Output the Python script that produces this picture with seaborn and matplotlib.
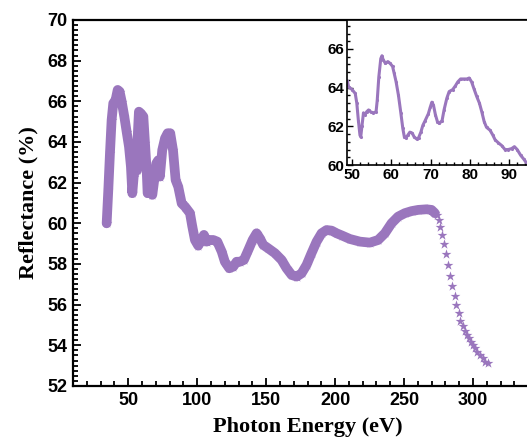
import matplotlib
matplotlib.use("Agg")
import matplotlib.pyplot as plt
import seaborn as sns
import pandas as pd
from matplotlib.ticker import MultipleLocator

# ---- main curve: photon energy (eV) vs reflectance (%) ----
energy = [34.4, 35.6, 36.8, 38.0, 39.2, 40.9, 42.4, 43.8, 45.3, 47.2, 48.9, 50.6,
          52.0, 53.0, 54.0, 54.9, 56.4, 56.9, 57.8, 59.3, 61.0, 62.2, 63.4, 64.1,
          65.8, 67.5, 68.9, 70.4, 71.8, 73.0, 74.7, 76.7, 78.6, 80.5, 82.5, 84.4,
          86.3, 88.8, 91.2, 94.8, 96.5, 98.4, 100.8, 103.2, 104.9, 106.9, 109.3,
          111.7, 114.6, 117.8, 120.1, 123.3, 126.2, 128.6, 131.0, 133.9, 137.1,
          140.2, 143.1, 145.5, 147.9, 151.5, 156.4, 161.2, 164.8, 168.5, 172.1,
          175.7, 179.3, 182.9, 186.6, 190.2, 193.8, 197.5, 201.1, 205.0, 210.7,
          218.0, 225.2, 231.2, 236.1, 240.9, 245.7, 250.6, 255.4, 260.2, 266.3,
          269.9, 272.3,
          274.0, 275.0, 276.4, 277.6, 279.0, 280.3, 281.7, 283.4, 285.1, 286.6,
          288.0, 289.5, 290.9, 292.4, 294.1, 295.7, 297.2, 298.6, 300.1, 301.5,
          303.0, 304.9, 306.9, 308.8, 310.7]
reflect = [60.0, 61.64, 63.45, 65.08, 65.9, 66.07, 66.56, 66.48, 65.99, 65.25, 64.5, 63.77,
           62.79, 61.48, 62.3, 62.7, 62.6, 64.26, 65.49, 65.4, 65.25, 63.94, 62.62, 61.48,
           61.56, 61.4, 62.13, 62.95, 63.1, 62.3, 63.6, 64.18, 64.43, 64.43, 63.6, 62.13,
           61.8, 60.98, 60.82, 60.5, 59.84, 59.18, 58.9, 59.18, 59.43, 59.1, 59.18,
           59.18, 59.1, 58.61, 58.11, 57.79, 57.87, 58.11, 58.11, 58.2, 58.69,
           59.18, 59.51, 59.26, 58.94, 58.77, 58.53, 58.2, 57.79, 57.46, 57.38,
           57.54, 57.95, 58.53, 59.1, 59.51, 59.67, 59.64, 59.51, 59.4, 59.23,
           59.1, 59.05, 59.18, 59.51, 60.0, 60.33, 60.5, 60.6, 60.66, 60.69,
           60.66, 60.5,
           60.41, 60.17, 59.8, 59.43, 58.98, 58.47, 57.95, 57.41, 56.92, 56.43,
           55.98, 55.58, 55.21, 54.95, 54.72, 54.51, 54.34, 54.18, 54.02, 53.85,
           53.69, 53.52, 53.36, 53.2, 53.11]

# ---- inset curve (zoom 49-95 eV) ----
inset_energy = [48.8, 49.1, 50.0, 50.8, 51.2, 51.6, 52.0, 52.2, 52.5, 52.9, 53.3, 53.7,
                54.2, 54.7, 55.4, 56.1, 56.4, 56.8, 57.3, 57.6, 57.9, 58.5, 59.1, 59.7,
                60.3, 60.7, 61.2, 61.8, 62.4, 62.9, 63.3, 63.7, 64.2, 64.7, 65.3, 65.8,
                66.4, 66.9, 67.5, 68.0, 68.6, 69.4, 69.9, 70.3, 70.7, 71.2, 71.7, 72.2,
                72.9, 73.4, 74.1, 74.7, 75.6, 76.3, 76.9, 77.6, 78.5, 79.2, 79.8, 80.4,
                81.0, 81.7, 82.4, 83.0, 83.6, 84.2, 85.1, 85.8, 86.4, 87.2, 88.1, 88.9,
                89.7, 90.6, 91.3, 92.0, 92.9, 93.7, 94.4, 95.5]
inset_reflect = [64.35, 64.05, 63.9, 63.7, 63.2, 62.3, 61.55, 61.45, 62.0, 62.7, 62.6, 62.75,
                 62.85, 62.75, 62.7, 62.75, 63.35, 64.55, 65.5, 65.65, 65.45, 65.25, 65.35, 65.25,
                 65.1, 64.75, 64.3, 63.6, 62.7, 61.9, 61.45, 61.4, 61.55, 61.7, 61.65, 61.45,
                 61.35, 61.4, 61.7, 62.05, 62.3, 62.65, 63.0, 63.25, 63.1, 62.6, 62.25, 62.15,
                 62.3, 62.85, 63.45, 63.8, 63.9, 64.1, 64.3, 64.45, 64.45, 64.45, 64.5, 64.3,
                 63.95, 63.55, 63.2, 62.75, 62.25, 61.95, 61.8, 61.55, 61.3, 61.15, 61.0, 60.8,
                 60.8, 60.85, 60.95, 60.8, 60.5, 60.3, 60.1, 59.8]

main_xticks = [50, 100, 150, 200, 250, 300]
main_yticks = [52, 54, 56, 58, 60, 62, 64, 66, 68, 70]
inset_xticks = [50, 60, 70, 80, 90]
inset_yticks = [60, 62, 64, 66]

COLOR = "#9a76bd"

sns.set_style("ticks")
plt.rcParams["font.family"] = ["Liberation Sans", "DejaVu Sans"]
plt.rcParams["font.weight"] = "bold"
for key in ["text.color", "axes.labelcolor", "xtick.color", "ytick.color",
            "axes.edgecolor"]:
    plt.rcParams[key] = "black"

df = pd.DataFrame({"E": energy, "R": reflect})
dense = df[df["E"] <= 272.5]
dfi = pd.DataFrame({"E": inset_energy, "R": inset_reflect})

fig = plt.figure(figsize=(5.27, 4.43), dpi=100)
ax = fig.add_axes([0.1385, 0.1287, 0.890, 0.8262])

sns.lineplot(data=dense, x="E", y="R", ax=ax, color=COLOR, linewidth=7.0,
             sort=False, estimator=None, solid_capstyle="round",
             solid_joinstyle="round")
sns.scatterplot(data=df, x="E", y="R", ax=ax, color=COLOR, marker="*", s=55,
                linewidth=0, edgecolor=None)

ax.set_xlim(10, 350)
ax.set_ylim(52, 70)
ax.set_xticks(main_xticks)
ax.set_yticks(main_yticks)
ax.xaxis.set_minor_locator(MultipleLocator(10))
ax.yaxis.set_minor_locator(MultipleLocator(0.25))
ax.tick_params(which="both", direction="in", top=False, right=False, width=1.3,
               labelsize=13, pad=4, colors="black")
ax.tick_params(which="major", length=6)
ax.tick_params(which="minor", length=3.5)
for lab in ax.get_xticklabels() + ax.get_yticklabels():
    lab.set_fontweight("bold")
for sp in ax.spines.values():
    sp.set_linewidth(1.6)
    sp.set_color("black")
ax.set_xlabel("Photon Energy (eV)", family=["Liberation Serif", "DejaVu Serif"],
              fontsize=16, fontweight="bold", labelpad=6, color="black")
ax.set_ylabel("Reflectance (%)", family=["Liberation Serif", "DejaVu Serif"],
              fontsize=16, fontweight="bold", labelpad=6, color="black")

# ---- inset ----
ins = fig.add_axes([0.6584, 0.6275, 0.3826, 0.3274])
sns.lineplot(data=dfi, x="E", y="R", ax=ins, color=COLOR, linewidth=2.2,
             sort=False, estimator=None)
sns.scatterplot(data=dfi, x="E", y="R", ax=ins, color=COLOR, marker="o", s=5,
                linewidth=0, edgecolor=None)
ins.set_xlim(48.7, 100)
ins.set_ylim(60, 67.5)
ins.set_xticks(inset_xticks)
ins.set_yticks(inset_yticks)
ins.xaxis.set_minor_locator(MultipleLocator(2))
ins.yaxis.set_minor_locator(MultipleLocator(0.4))
ins.tick_params(which="both", direction="in", top=False, right=False, width=1.0,
                labelsize=11, pad=2, colors="black")
ins.tick_params(which="major", length=4)
ins.tick_params(which="minor", length=2)
for lab in ins.get_xticklabels() + ins.get_yticklabels():
    lab.set_fontweight("bold")
for sp in ins.spines.values():
    sp.set_linewidth(1.2)
    sp.set_color("black")
ins.set_xlabel("")
ins.set_ylabel("")

fig.savefig("out.png", dpi=100)
